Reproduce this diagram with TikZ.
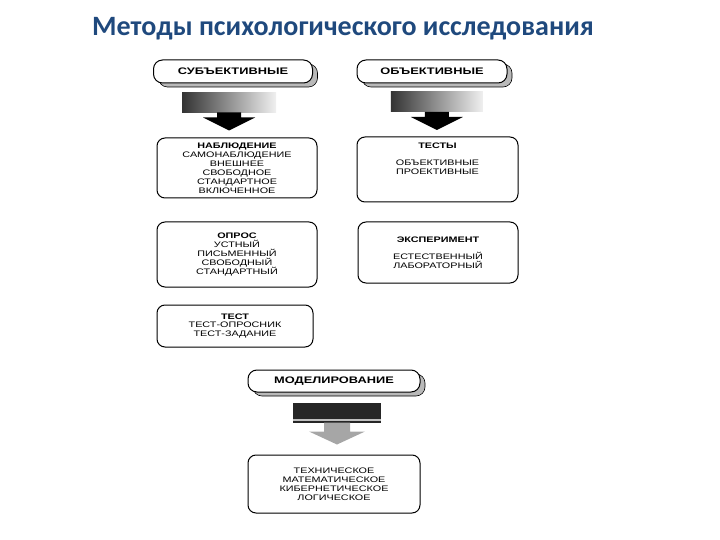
\documentclass[tikz,border=0pt]{standalone}
\usepackage{fontspec}
\setmainfont{Liberation Sans}
\newfontfamily\boxfont[FakeStretch=1.35]{Liberation Sans}
\newfontfamily\titlefont{Carlito}
\usetikzlibrary{positioning,shadows,calc}
\definecolor{titleblue}{RGB}{31,73,125}
\setlength{\lineskiplimit}{-50pt}

\begin{document}
\begin{tikzpicture}[
    x=1pt, y=-1pt,
    box/.style={draw=black, line width=1pt, rounded corners=8pt, fill=white, align=center, inner sep=0pt,
        font=\boxfont\fontsize{8}{8.9}\selectfont},
    header/.style={box, rounded corners=9pt, font=\boxfont\bfseries\fontsize{9.5}{11}\selectfont,
        drop shadow={shadow xshift=5pt, shadow yshift=-4pt, fill=gray!55, draw=black, line width=0.6pt, opacity=1}},
    txt/.style={align=center, inner sep=0pt, font=\boxfont\fontsize{8}{8.9}\selectfont},
    stem/.style={left color=black!80, middle color=gray!35, right color=gray!12, draw=none},
    tip/.style={fill=black}
]
    \useasboundingbox (0,0) rectangle (720,540);

    % Title
    \node[text=titleblue, font=\titlefont\bfseries\fontsize{28}{30}\selectfont] (title) at (343,29) {Методы психологического исследования};

    % Headers
    \node[header, minimum width=159pt, minimum height=23pt] (subj) at (233,71.5) {СУБЪЕКТИВНЫЕ};
    \node[header, minimum width=150pt, minimum height=23pt] (obj) at (432,71.5) {ОБЪЕКТИВНЫЕ};

    % Left column
    \node[box, minimum width=160pt, minimum height=60pt] (nabl) at (237,168) {\textbf{НАБЛЮДЕНИЕ}\\САМОНАБЛЮДЕНИЕ\\ВНЕШНЕЕ\\СВОБОДНОЕ\\СТАНДАРТНОЕ\\ВКЛЮЧЕННОЕ};
    \node[box, minimum width=160pt, minimum height=65pt] (opros) at (237,254.5) {\textbf{ОПРОС}\\УСТНЫЙ\\ПИСЬМЕННЫЙ\\СВОБОДНЫЙ\\СТАНДАРТНЫЙ};
    \node[box, minimum width=156pt, minimum height=42pt] (test) at (235,326) {\textbf{ТЕСТ}\\ТЕСТ-ОПРОСНИК\\ТЕСТ-ЗАДАНИЕ};

    % Right column
    \node[box, minimum width=161pt, minimum height=65pt] (testy) at (437.5,169.5) {};
    \node[txt, below=6pt of testy.north] (testytxt) {\textbf{ТЕСТЫ}\\[8pt]ОБЪЕКТИВНЫЕ\\ПРОЕКТИВНЫЕ};
    \node[box, minimum width=160pt, minimum height=61pt] (eksp) at (438,252.5) {\textbf{ЭКСПЕРИМЕНТ}\\[8pt]ЕСТЕСТВЕННЫЙ\\ЛАБОРАТОРНЫЙ};

    % Modelling
    \node[header, minimum width=172pt, minimum height=22pt] (model) at (334,381) {МОДЕЛИРОВАНИЕ};
    \node[box, minimum width=172pt, minimum height=58pt] (tech) at (334,484) {ТЕХНИЧЕСКОЕ\\МАТЕМАТИЧЕСКОЕ\\КИБЕРНЕТИЧЕСКОЕ\\ЛОГИЧЕСКОЕ};

    % Block arrows
    \begin{scope}[shift={($(subj.south)!0.5!(nabl.north)$)}, xshift=-6pt]
        \fill[stem] (-47,-18) rectangle (47,2);
        \fill[tip] (-12,2) -- (12,2) -- (12,7) -- (26,7) -- (0,20) -- (-26,7) -- (-12,7) -- cycle;
    \end{scope}
    \begin{scope}[shift={($(obj.south)!0.5!(testy.north)$)}, xshift=2pt]
        \fill[stem] (-46,-18) rectangle (46,2);
        \fill[tip] (-12,2) -- (12,2) -- (12,7) -- (26,7) -- (0,20) -- (-26,7) -- (-12,7) -- cycle;
    \end{scope}
    \begin{scope}[shift={($(model.south)!0.5!(tech.north)$)}, xshift=3pt]
        \fill[black!85] (-44,-21) rectangle (44,-1);
        \fill[black!25] (-44,-5) rectangle (44,-3);
        \fill[gray!70] (-13,-1) -- (13,-1) -- (13,8) -- (28,8) -- (0,21) -- (-28,8) -- (-13,8) -- cycle;
    \end{scope}
\end{tikzpicture}
\end{document}
